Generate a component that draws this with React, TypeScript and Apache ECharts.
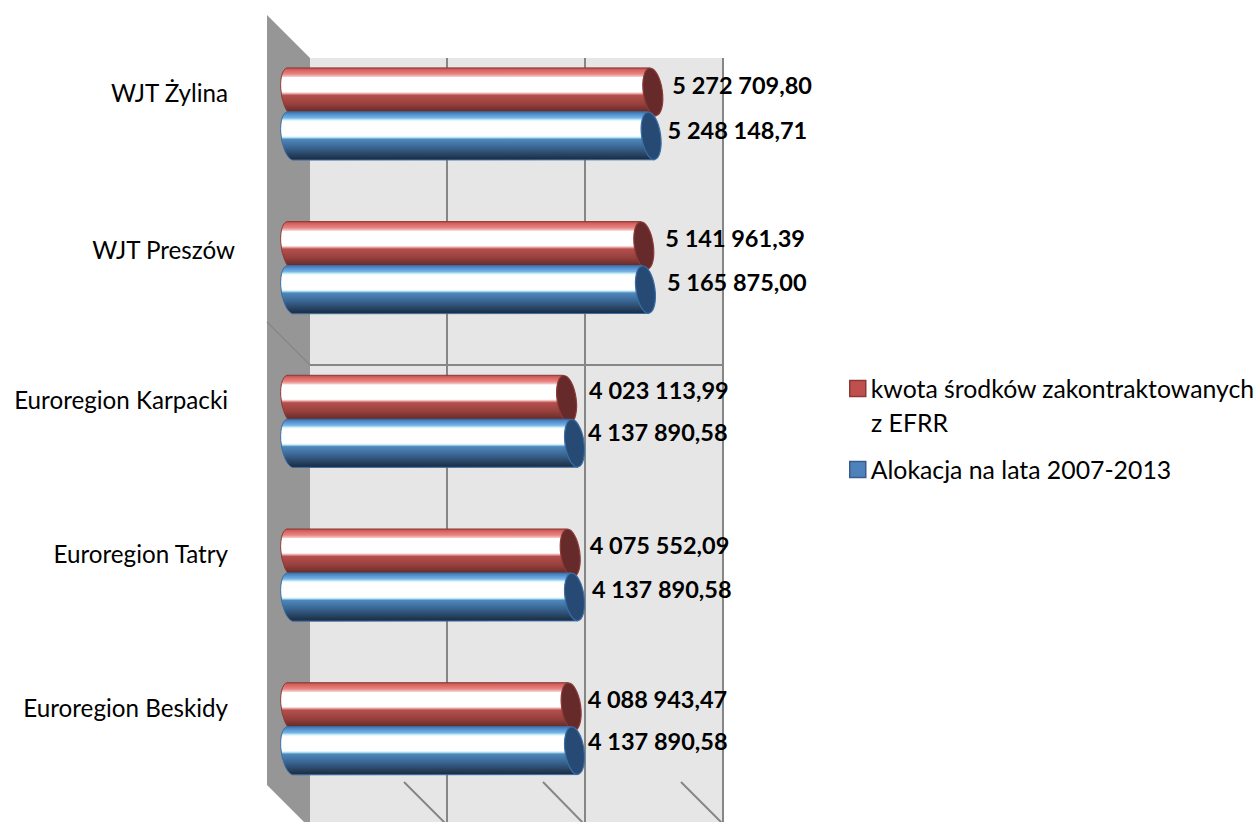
import React, { useEffect, useRef } from "react";
import * as echarts from "echarts";

const categories = ["WJT Żylina", "WJT Preszów", "Euroregion Karpacki", "Euroregion Tatry", "Euroregion Beskidy"];
const contractedName = "kwota środków zakontraktowanych z EFRR";
const allocationName = "Alokacja na lata 2007-2013";
const contracted = [5272709.8, 5141961.39, 4023113.99, 4075552.09, 4088943.47];
const allocation = [5248148.71, 5165875.0, 4137890.58, 4137890.58, 4137890.58];

const FONT = "Lato, Carlito, Calibri, sans-serif";
const DEPTH_X = 20; // 3D offset of the bars from the back wall
const DEPTH_Y = 21;
const RX = 9.5;
const TILT = 0.14; // lean of the cylinder ends, radians
const labelNudgeRed = [0, 2, 3, 0, -3];
const labelNudgeBlue = [-3, 2, -6, -2, -6];
const labelLiftRed = [1, 2, 3, 2, 2];
const labelLiftBlue = [0, 2, 5, 2, 4];

function fmt(v: number) {
  const [a, b] = v.toFixed(2).split(".");
  return a.replace(/\B(?=(\d{3})+$)/g, " ") + "," + b;
}

const redStops = [
  [0, "#a84a48"], [0.04, "#d65f5c"], [0.13, "#e58582"], [0.185, "#f8c8c6"], [0.2, "#ffffff"],
  [0.5, "#ffffff"], [0.53, "#f0b4b2"], [0.57, "#b54f4c"], [0.75, "#96403d"], [0.97, "#552321"], [1, "#552321"],
];
const blueStops = [
  [0, "#3f72ac"], [0.05, "#4f8ccb"], [0.13, "#79b4e6"], [0.17, "#c8f0fb"], [0.2, "#ffffff"],
  [0.5, "#ffffff"], [0.53, "#c4eef8"], [0.57, "#4f88bd"], [0.75, "#38638f"], [0.97, "#1e3047"], [1, "#1e3047"],
];

function cylinder(stops: any[], cap: string, edge: string, slot: number, nudge: number[], lift: number[]) {
  return (params: any, api: any) => {
    const idx = api.value(1);
    const end = api.coord([api.value(0), idx]);
    const zero = api.coord([0, idx]);
    const band = api.size([0, 1])[1];
    const ry = band * 0.156;
    const cy = end[1] - DEPTH_Y + slot * band * 0.143;
    const x0 = zero[0] - DEPTH_X + 3.5;
    const x1 = end[0] - DEPTH_X;
    const s = ry * Math.sin(TILT);
    const deg = (-TILT * 180) / Math.PI;
    const d =
      `M ${x1 - s} ${cy - ry} L ${x0 - s} ${cy - ry} ` +
      `A ${RX} ${ry} ${deg} 0 0 ${x0 + s} ${cy + ry} L ${x1 + s} ${cy + ry} Z`;
    return {
      type: "group",
      children: [
        {
          type: "path",
          shape: { pathData: d },
          style: {
            fill: new echarts.graphic.LinearGradient(0, 0, 0, 1, stops.map(([offset, color]) => ({ offset, color }))),
            stroke: edge,
            lineWidth: 1,
          },
        },
        {
          type: "ellipse",
          shape: { cx: 0, cy: 0, rx: RX, ry },
          x: x1,
          y: cy,
          rotation: TILT,
          style: { fill: cap, stroke: edge, lineWidth: 1.2 },
        },
        {
          type: "text",
          x: x1 + RX + 10 + nudge[idx],
          y: cy - 6 - lift[idx],
          style: {
            text: fmt(api.value(0)),
            font: `700 23.5px ${FONT}`,
            fill: "#000",
            textAlign: "left",
            textVerticalAlign: "middle",
          },
        },
      ],
    };
  };
}

export default function App() {
  const ref = useRef<HTMLDivElement>(null);
  useEffect(() => {
    document.body.style.margin = "0";
    document.body.style.overflow = "hidden";
    const chart = echarts.init(ref.current!, null, { renderer: "svg" });
    chart.setOption({
      animation: false,
      backgroundColor: "#fff",
      grid: {
        left: 309, top: 58, width: 414, height: 768.5,
        show: true, backgroundColor: "#e6e6e6", borderWidth: 0,
      },
      xAxis: {
        type: "value", min: 0, max: 6000000, interval: 2000000,
        axisLabel: { show: false }, axisLine: { show: false }, axisTick: { show: false },
        splitLine: { show: true, showMinLine: false, lineStyle: { color: "#868686", width: 2 } },
      },
      yAxis: {
        type: "category", inverse: true, data: categories,
        axisLine: { show: false }, axisTick: { show: false },
        splitLine: { show: false },
        axisLabel: {
          margin: 74,
          padding: [0, 0, 85, 0],
          formatter: (v: string) => (v === "WJT Preszów" ? `{p|${v}}` : `{o|${v}}`),
          rich: {
            o: { fontFamily: FONT, fontSize: 24.2, color: "#000", padding: [0, 7, 0, 0] },
            p: { fontFamily: FONT, fontSize: 24.2, color: "#000", padding: [6, 0, 0, 0] },
          },
        },
      },
      legend: {
        orient: "vertical", left: 849, top: 376, padding: 0, itemWidth: 16, itemHeight: 16, itemGap: 56, icon: "rect",
        formatter: (n: string) => n.replace(" z EFRR", ""),
        textStyle: { fontFamily: FONT, fontSize: 24.8, color: "#000" },
        data: [
          { name: contractedName, itemStyle: { color: "#c0504d", borderColor: "#8c3836", borderWidth: 1.5 } },
          { name: allocationName, itemStyle: { color: "#4f81bd", borderColor: "#385d8a", borderWidth: 1.5 } },
        ],
      },
      graphic: [
        {
          type: "polygon", z: 1,
          shape: { points: [[267, 15], [310, 58], [310, 828], [267, 785]] },
          style: { fill: "#969696" },
        },
        { type: "line", z: 1, shape: { x1: 267, y1: 322, x2: 310, y2: 365 }, style: { stroke: "#868686", lineWidth: 1.5 } },
        { type: "line", z: 1, shape: { x1: 310, y1: 365, x2: 724, y2: 365 }, style: { stroke: "#868686", lineWidth: 2 } },
        { type: "line", z: 1, shape: { x1: 404, y1: 782, x2: 447, y2: 825 }, style: { stroke: "#868686", lineWidth: 2 } },
        { type: "line", z: 1, shape: { x1: 543, y1: 782, x2: 585, y2: 825 }, style: { stroke: "#868686", lineWidth: 2 } },
        { type: "line", z: 1, shape: { x1: 681, y1: 782, x2: 724, y2: 825 }, style: { stroke: "#868686", lineWidth: 2 } },
        { type: "text", z: 5, x: 871, y: 422, style: { text: "z EFRR", font: `400 24.8px ${FONT}`, fill: "#000", textVerticalAlign: "middle" } },
      ],
      series: [
        {
          type: "custom", name: contractedName, coordinateSystem: "cartesian2d", clip: false,
          encode: { x: 0, y: 1 },
          itemStyle: { color: "#c0504d" },
          data: contracted.map((v, i) => [v, i]),
          renderItem: cylinder(redStops, "#652a29", "#8c3a38", -1, labelNudgeRed, labelLiftRed),
        },
        {
          type: "custom", name: allocationName, coordinateSystem: "cartesian2d", clip: false,
          encode: { x: 0, y: 1 },
          itemStyle: { color: "#4f81bd" },
          data: allocation.map((v, i) => [v, i]),
          renderItem: cylinder(blueStops, "#264a73", "#3a6ea5", 1, labelNudgeBlue, labelLiftBlue),
        },
      ],
    });
    return () => chart.dispose();
  }, []);
  return (
    <div style={{ width: 1259, height: 822, overflow: "hidden" }}>
      <div ref={ref} style={{ width: 1259, height: 832 }} />
    </div>
  );
}
